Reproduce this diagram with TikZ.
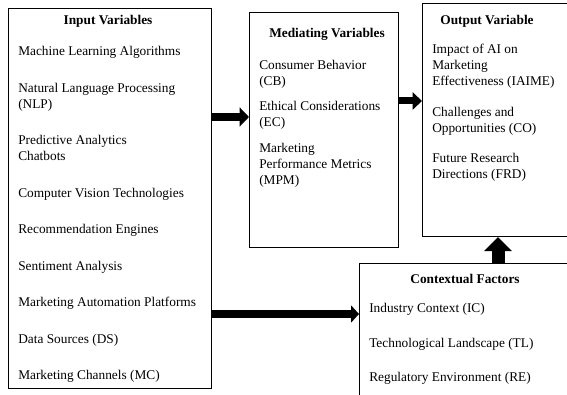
\documentclass[tikz,border=0pt]{standalone}
\usepackage{fontspec}
\setmainfont{Liberation Serif}
\usetikzlibrary{arrows.meta, positioning}

\begin{document}
\begin{tikzpicture}[x=0.75pt, y=-0.75pt]
	
	\tikzset{var box/.style={draw, line width=0.8pt, anchor=north west, inner sep=0pt},
		box title/.style={font=\fontsize{10}{12}\selectfont\bfseries, inner sep=0pt, anchor=base},
		box items/.style={font=\fontsize{10}{12}\selectfont, align=left, inner sep=0pt, anchor=north west},
		fat arrow/.style={line width=6.5pt, -{Triangle[width=14pt, length=7pt]}}
	}
	
	\useasboundingbox (0,0) rectangle (567,395);
	\clip (0,0) rectangle (567,395);
	
	% the four boxes
	\node[var box, minimum width=152.25pt, minimum height=285pt] (inp) at (8,8) {};
	\node[var box, minimum width=111.75pt, minimum height=176.25pt] (med) at (249,12) {};
	\node[var box, minimum width=118.5pt, minimum height=174.75pt] (out) at (422,3) {};
	\node[var box, minimum width=165.75pt, minimum height=106.5pt] (ctx) at (359,263) {};
	
	% titles
	\node[box title] (inp-t) at (108,25) {Input Variables};
	\node[box title] (med-t) at (327,38) {Mediating Variables};
	\node[box title] (out-t) at (487,25) {Output Variable};
	\node[box title] (ctx-t) at (465,283) {Contextual Factors};
	
	% contents
	\node[box items] (inp-l) at (18,46) {Machine Learning Algorithms\\[15.4pt]
		Natural Language Processing\\(NLP)\\[15.4pt]
		Predictive Analytics\\Chatbots\\[15.4pt]
		Computer Vision Technologies\\[15.4pt]
		Recommendation Engines\\[15.4pt]
		Sentiment Analysis\\[15.4pt]
		Marketing Automation Platforms\\[15.4pt]
		Data Sources (DS)\\[15.4pt]
		Marketing Channels (MC)};
	\node[box items] (med-l) at (259,60) {Consumer Behavior\\(CB)\\[7pt]
		Ethical Considerations\\(EC)\\[7pt]
		Marketing\\Performance Metrics\\(MPM)};
	\node[box items] (out-l) at (432,44) {Impact of AI on\\Marketing\\Effectiveness (IAIME)\\[11pt]
		Challenges and\\Opportunities (CO)\\[11pt]
		Future Research\\Directions (FRD)};
	\node[box items] (ctx-l) at (369,303) {Industry Context (IC)\\[14pt]
		Technological Landscape (TL)\\[14pt]
		Regulatory Environment (RE)};
	
	% arrows
	\draw[fat arrow] (inp.east |- 0,117) -- (med.west |- 0,117);
	\draw[fat arrow, line width=5.25pt, -{Triangle[width=12.75pt, length=7pt]}] (med.east |- 0,101) -- (out.west |- 0,101);
	\draw[fat arrow, line width=6pt, -{Triangle[width=12.75pt, length=6pt]}] (inp.east |- 0,314) -- (ctx.west |- 0,314);
	\draw[fat arrow, line width=9.75pt, -{Triangle[width=20.25pt, length=10.5pt]}] (ctx.north -| 498,0) -- (out.south -| 498,0);
	
\end{tikzpicture}
\end{document}
